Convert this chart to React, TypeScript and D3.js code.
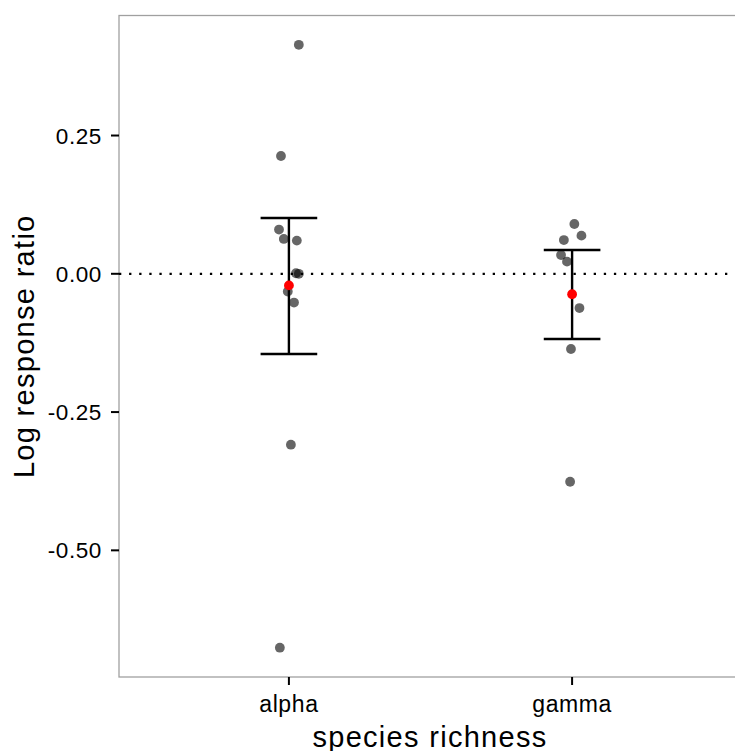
import React from "react";
import * as d3 from "d3";

const categories = ["alpha", "gamma"];
const alphaValues = [0.414, 0.213, 0.080, 0.063, 0.060, 0.001, 0.000, -0.032, -0.052, -0.309, -0.676];
const alphaJitter = [0.035, -0.028, -0.035, -0.018, 0.028, 0.025, 0.035, -0.004, 0.018, 0.007, -0.032];
const gammaValues = [0.090, 0.069, 0.061, 0.034, 0.022, -0.062, -0.136, -0.376];
const gammaJitter = [0.008, 0.033, -0.029, -0.039, -0.018, 0.026, -0.004, -0.007];
const means = [-0.021, -0.037];
const lowers = [-0.145, -0.118];
const uppers = [0.101, 0.043];
const yTicks = [0.25, 0.0, -0.25, -0.5];
const yTickLabels = ["0.25", "0.00", "-0.25", "-0.50"];

const W = 735;
const H = 751;
const left = 119;
const top = 15.5;
const bottom = 677;
const right = 742;

export default function App() {
  const x = d3.scaleLinear().domain([0.4, 2.6]).range([left, right]);
  const y = d3.scaleLinear().domain([0.467, -0.729]).range([top, bottom]);
  const groups = [
    { vals: alphaValues, jit: alphaJitter },
    { vals: gammaValues, jit: gammaJitter },
  ];
  const font = "Liberation Sans, Arial, sans-serif";
  return (
    <svg width={W} height={H} style={{ position: "absolute", left: 0, top: 0 }} fontFamily={font}>
      <rect x={0} y={0} width={W} height={H} fill="white" />
      <rect x={left} y={top} width={right - left} height={bottom - top} fill="white" stroke="#a0a0a0" strokeWidth={1.3} />
      <line x1={left} x2={right} y1={y(0)} y2={y(0)} stroke="black" strokeWidth={2.3} strokeDasharray="2.3 7.8" />
      {groups.map((g, gi) =>
        g.vals.map((v, i) => (
          <circle key={`${gi}-${i}`} cx={x(gi + 1 + g.jit[i])} cy={y(v)} r={4.9} fill="black" fillOpacity={0.6} />
        ))
      )}
      {categories.map((c, i) => (
        <g key={c}>
          <line x1={x(i + 1)} x2={x(i + 1)} y1={y(uppers[i])} y2={y(lowers[i])} stroke="black" strokeWidth={2.4} />
          <line x1={x(i + 0.9)} x2={x(i + 1.1)} y1={y(uppers[i])} y2={y(uppers[i])} stroke="black" strokeWidth={2.4} />
          <line x1={x(i + 0.9)} x2={x(i + 1.1)} y1={y(lowers[i])} y2={y(lowers[i])} stroke="black" strokeWidth={2.4} />
          <circle cx={x(i + 1)} cy={y(means[i])} r={4.9} fill="red" />
        </g>
      ))}
      {yTicks.map((t, i) => (
        <g key={t}>
          <line x1={left - 8} x2={left} y1={y(t)} y2={y(t)} stroke="black" strokeWidth={2} />
          <text x={102} y={y(t)} dy="0.36em" textAnchor="end" fontSize={22.5} letterSpacing={0.6} fill="black">
            {yTickLabels[i]}
          </text>
        </g>
      ))}
      {categories.map((c, i) => (
        <g key={c}>
          <line x1={x(i + 1)} x2={x(i + 1)} y1={bottom} y2={bottom + 8} stroke="black" strokeWidth={2} />
          <text x={x(i + 1)} y={712} textAnchor="middle" fontSize={23} letterSpacing={0.6} fill="black">
            {c}
          </text>
        </g>
      ))}
      <text x={430} y={747} textAnchor="middle" fontSize={29} letterSpacing={1.3} fill="black">species richness</text>
      <text transform={`translate(34, ${(top + bottom) / 2}) rotate(-90)`} textAnchor="middle" fontSize={29} letterSpacing={1.3} fill="black">
        Log response ratio
      </text>
    </svg>
  );
}
